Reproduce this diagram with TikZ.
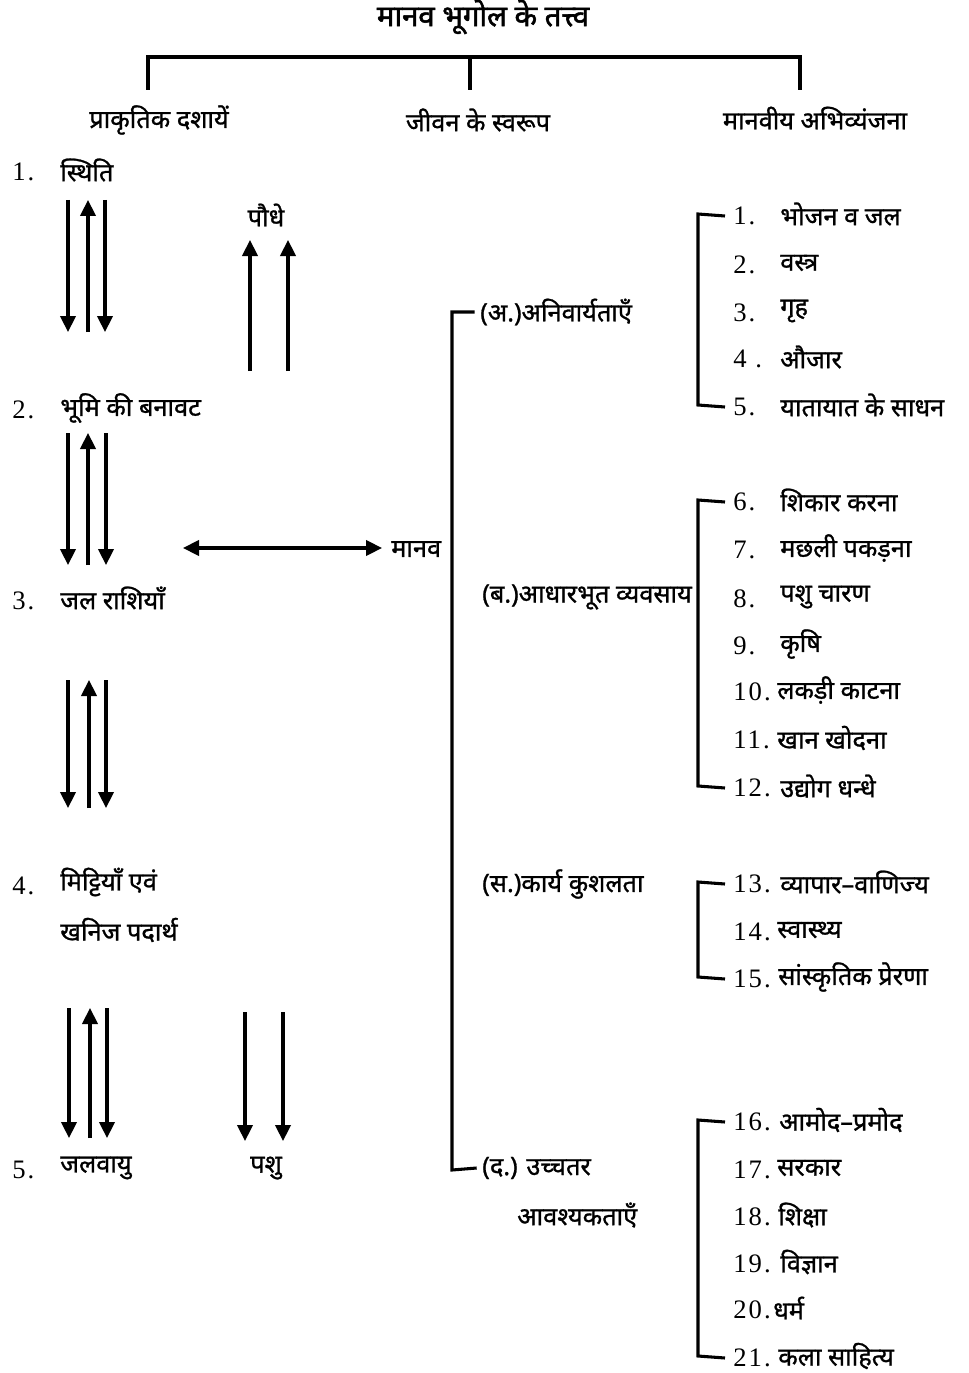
\documentclass[tikz,border=0pt]{standalone}
\usepackage{fontspec}
\setmainfont{Liberation Serif}
\newfontfamily\dev[Script=Devanagari, FakeBold=1.0]{Noto Sans}
\newfontfamily\devb[Script=Devanagari, FakeBold=1.8]{Noto Sans}
\newfontfamily\numf[LetterSpace=8]{Liberation Serif}
\usetikzlibrary{arrows.meta}
\begin{document}
\begin{tikzpicture}[x=0.75pt,y=-0.75pt,
  txt/.style={font=\dev\fontsize{19}{22}\selectfont, inner sep=0pt, anchor=west},
  ttl/.style={font=\devb\fontsize{22}{26}\selectfont, inner sep=0pt},
  hdr/.style={font=\dev\fontsize{19}{22}\selectfont, inner sep=0pt},
  num/.style={font=\numf\fontsize{20}{22}\selectfont, inner sep=0pt, anchor=west},
  br/.style={line width=2.3pt},
  arr/.style={line width=2.3pt, -{Triangle[width=11.5pt,length=12pt]}},
  darr/.style={line width=2.3pt, {Triangle[width=11.5pt,length=12pt]}-{Triangle[width=11.5pt,length=12pt]}}]
\useasboundingbox (0,0) rectangle (968,1373);
\fill[white] (0,0) rectangle (968,1373);

% title and top bracket
\node[ttl] (title) at (483,17) {मानव भूगोल के तत्त्व};
\coordinate (tl) at (148,57); \coordinate (tr) at (800,57);
\coordinate (tm) at (470,57);
\node[hdr] (h1) at (159,120) {प्राकृतिक दशायें};
\node[hdr] (h2) at (478,120) {जीवन के स्वरूप};
\node[hdr] (h3) at (815,118) {मानवीय अभिव्यंजना};
\draw[br] (148,90) -- (tl) -- (tr) -- (800,90);
\draw[br] (tm) -- (470,90);

% left column
\node[num] (n1) at (12,172) {1.};
\node[txt] (l1) at (60,170) {स्थिति};
\node[num] (n2) at (12,410) {2.};
\node[txt] (l2) at (60,408) {भूमि की बनावट};
\node[num] (n3) at (12,601) {3.};
\node[txt] (l3) at (60,598) {जल राशियाँ};
\node[num] (n4) at (12,886) {4.};
\node[txt] (l4) at (60,882) {मिट्टियाँ एवं};
\node[txt] (l4b) at (60,930) {खनिज पदार्थ};
\node[num] (n5) at (12,1170) {5.};
\node[txt] (l5) at (60,1168) {जलवायु};
\node[hdr] (plant) at (266,215) {पौधे};
\node[hdr] (anim) at (266,1168) {पशु};
\node[txt] (man) at (391,549) {मानव};

% vertical arrow groups
\foreach \i/\ya/\yb/\xa/\xb/\xc in {1/200/332/68/88/105, 2/433/565/68/88/106, 3/680/808/68/89/106, 4/1008/1138/69/90/107}{
  \coordinate (g\i at) at (\xa,\ya); \coordinate (g\i ab) at (\xa,\yb);
  \coordinate (g\i bt) at (\xb,\ya); \coordinate (g\i bb) at (\xb,\yb);
  \coordinate (g\i ct) at (\xc,\ya); \coordinate (g\i cb) at (\xc,\yb);
  \draw[arr] (g\i at) -- (g\i ab);
  \draw[arr] (g\i bb) -- (g\i bt);
  \draw[arr] (g\i ct) -- (g\i cb);
}
\coordinate (p1b) at (250,371); \coordinate (p1t) at (250,240);
\coordinate (p2b) at (288,371); \coordinate (p2t) at (288,240);
\draw[arr] (p1b) -- (p1t);
\draw[arr] (p2b) -- (p2t);
\coordinate (a1t) at (245,1012); \coordinate (a1b) at (245,1141);
\coordinate (a2t) at (283,1012); \coordinate (a2b) at (283,1141);
\draw[arr] (a1t) -- (a1b);
\draw[arr] (a2t) -- (a2b);
\coordinate (dl) at (183,548); \coordinate (dr) at (382,548);
\draw[darr] (dl) -- (dr);

% middle bracket
\node[txt] (ma) at (480,312) {(अ.)अनिवार्यताएँ};
\node[txt] (mb) at (482,597) {(ब.)आधारभूत व्यवसाय};
\node[txt] (mc) at (482,884) {(स.)कार्य कुशलता};
\node[txt] (md) at (482,1168) {(द.) उच्चतर};
\node[txt] (md2) at (517,1215) {आवश्यकताएँ};
\draw[br] ([xshift=-4pt]ma.west) -- (452,312) -- (452,1170) -- ([xshift=-4pt]md.west);

% right brackets
\foreach \y/\n/\t/\tx in {214/1./भोजन व जल/780, 263/2./वस्त्र/780, 311/3./गृह/780, 357/4 ./औजार/780, 405/5./यातायात के साधन/780,
  500/6./शिकार करना/780, 548/7./मछली पकड़ना/780, 597/8./पशु चारण/780, 644/9./कृषि/780, 690/10./लकड़ी काटना/777, 738/11./खान खोदना/777, 786/12./उद्योग धन्धे/780,
  882/13./व्यापार–वाणिज्य/780, 930/14./स्वास्थ्य/777, 977/15./सांस्कृतिक प्रेरणा/778,
  1120/16./आमोद–प्रमोद/779, 1168/17./सरकार/777, 1215/18./शिक्षा/778, 1262/19./विज्ञान/780, 1308/20./धर्म/773, 1356/21./कला साहित्य/778}{
  \node[num] (r\y) at (733,\y+2) {\n};
  \node[txt] (t\y) at (\tx,\y) {\t};
}
\draw[br] ([xshift=-6pt]r214.west) -- (698,214) -- (698,405) -- ([xshift=-6pt]r405.west);
\draw[br] ([xshift=-6pt]r500.west) -- (698,500) -- (698,786) -- ([xshift=-6pt]r786.west);
\draw[br] ([xshift=-6pt]r882.west) -- (698,882) -- (698,977) -- ([xshift=-6pt]r977.west);
\draw[br] ([xshift=-6pt]r1120.west) -- (698,1120) -- (698,1356) -- ([xshift=-6pt]r1356.west);
\end{tikzpicture}
\end{document}
